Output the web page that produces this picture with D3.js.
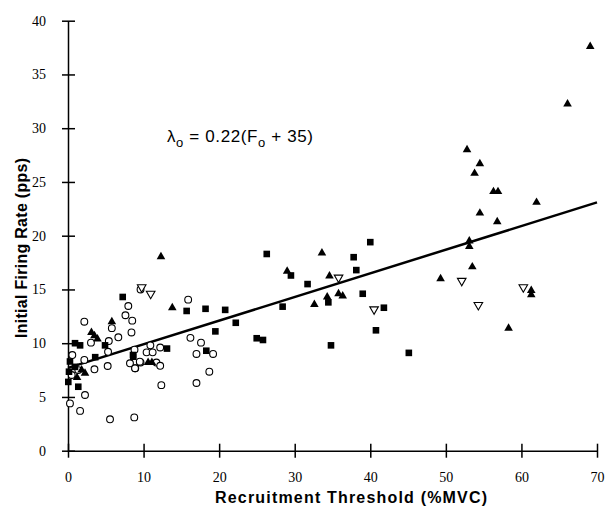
<!DOCTYPE html>
<html>
<head>
<meta charset="utf-8">
<script src="https://cdn.jsdelivr.net/npm/d3@7"></script>
<style>
  body { margin: 0; background: #fff; }
</style>
</head>
<body>
<svg id="chart"></svg>
<script>
// values: [recruitment threshold %MVC, initial firing rate pps]
var filledTriangles = [
  [69.1,37.6],[66.1,32.25],[52.8,28.0],[54.5,26.7],[53.8,25.8],[56.3,24.1],[56.9,24.1],
  [62.0,23.1],[54.5,22.1],[56.8,21.3],[53.1,19.5],[53.1,19.0],[53.5,17.1],[49.3,16.0],
  [61.3,14.9],[61.3,14.5],[58.3,11.4],[33.6,18.4],[29.0,16.7],[34.6,16.25],[35.8,14.6],
  [36.35,14.4],[34.3,14.3],[32.6,13.6],[12.3,18.05],[13.8,13.3],[10.6,8.2],[11.1,8.2],
  [5.8,12.0],[3.1,11.0],[3.5,10.7],[3.9,10.4],[1.8,7.5],[2.25,7.2],[1.2,6.8]
];
var filledSquares = [
  [26.3,18.3],[40.0,19.4],[37.8,18.0],[29.5,16.3],[38.15,16.8],[31.7,15.5],[39.0,14.6],
  [28.4,13.4],[41.8,13.3],[40.75,11.2],[24.97,10.46],[25.8,10.3],[34.8,9.8],[45.1,9.1],
  [34.45,13.8],[15.7,13.0],[18.2,13.2],[20.8,13.1],[22.2,11.9],[19.5,11.1],[18.3,9.3],
  [13.1,9.5],[8.6,8.9],[7.24,14.3],[4.9,9.8],[3.6,8.7],[0.93,10.0],[1.6,9.8],[0.26,8.3],
  [0.93,7.8],[0.13,7.35],[0.04,6.4],[1.36,5.95],[8.64,8.74]
];
var openCircles = [
  [9.6,15.0],[15.9,14.05],[16.2,10.5],[17.6,10.05],[17.0,9.0],[19.2,9.0],[18.7,7.35],
  [17.0,6.3],[12.35,6.1],[10.9,9.8],[10.4,9.15],[11.2,9.15],[12.2,9.6],[9.6,8.2],
  [11.7,8.2],[12.2,7.9],[8.9,7.67],[7.98,13.46],[7.6,12.6],[8.5,12.1],[8.4,11.0],
  [2.16,12.0],[5.8,11.4],[6.66,10.55],[3.04,10.05],[5.4,10.2],[5.3,9.2],[0.57,8.9],
  [2.16,8.44],[3.5,7.57],[5.25,7.88],[1.36,7.5],[0.49,7.04],[2.25,5.18],[0.26,4.4],
  [1.6,3.7],[5.56,2.92],[8.77,3.1],[8.2,8.13],[8.87,7.67],[9.5,8.28],[8.8,9.4]
];
var openInvTriangles = [
  [9.75,15.2],[10.94,14.6],[35.8,16.1],[40.5,13.15],[52.1,15.8],[60.25,15.2],[54.3,13.55]
];

// regression line lambda_o = 0.22(F_o + 35)
var fitX = [0, 70];
var fitY = [7.7, 23.1];

var xTicks = [0, 10, 20, 30, 40, 50, 60, 70];
var yTicks = [0, 5, 10, 15, 20, 25, 30, 35, 40];

var width = 607, height = 506;
var margin = {left: 68, right: 10, top: 20.7, bottom: 55.3};
var sans = "'Liberation Sans', Arial, sans-serif";
var serif = "'Liberation Serif', 'Times New Roman', serif";

var svg = d3.select("#chart")
    .attr("width", width)
    .attr("height", height);

var x = d3.scaleLinear()
    .domain([0, 70])
    .range([margin.left, width - margin.right]);

var y = d3.scaleLinear()
    .domain([0, 40])
    .range([height - margin.bottom, margin.top]);

// axes, ticks cross the axis line
var xAxis = svg.append("g")
    .attr("transform", "translate(0," + y(0) + ")")
    .call(d3.axisBottom(x).tickValues(xTicks).tickSizeOuter(0).tickPadding(15));
xAxis.selectAll(".tick line").attr("y1", -7).attr("y2", 7);

var yAxis = svg.append("g")
    .attr("transform", "translate(" + x(0) + ",0)")
    .call(d3.axisLeft(y).tickValues(yTicks).tickSizeOuter(0).tickPadding(16));
yAxis.selectAll(".tick line").attr("x1", -6).attr("x2", 7);

svg.selectAll(".domain, .tick line")
    .attr("stroke", "#000")
    .attr("stroke-width", 1.5);
svg.selectAll(".tick text")
    .attr("fill", "#000")
    .style("font-family", serif)
    .style("font-size", "14px");

// fit line
svg.append("path")
    .datum(d3.zip(fitX, fitY))
    .attr("fill", "none")
    .attr("stroke", "#000")
    .attr("stroke-width", 2.5)
    .attr("d", d3.line().x(d => x(d[0])).y(d => y(d[1])));

// markers
svg.append("g").selectAll("circle")
    .data(openCircles)
    .enter().append("circle")
    .attr("cx", d => x(d[0]))
    .attr("cy", d => y(d[1]))
    .attr("r", 3.4)
    .attr("fill", "#fff")
    .attr("stroke", "#000")
    .attr("stroke-width", 1.1);

svg.append("g").selectAll("rect")
    .data(filledSquares)
    .enter().append("rect")
    .attr("x", d => x(d[0]) - 3.3)
    .attr("y", d => y(d[1]) - 3.3)
    .attr("width", 6.6)
    .attr("height", 6.6)
    .attr("fill", "#000");

var tri = d3.symbol().type(d3.symbolTriangle).size(32);

svg.append("g").selectAll("path")
    .data(filledTriangles)
    .enter().append("path")
    .attr("d", tri)
    .attr("transform", d => "translate(" + x(d[0]) + "," + y(d[1]) + ")")
    .attr("fill", "#000");

svg.append("g").selectAll("path")
    .data(openInvTriangles)
    .enter().append("path")
    .attr("d", tri)
    .attr("transform", d => "translate(" + x(d[0]) + "," + y(d[1]) + ") rotate(180)")
    .attr("fill", "#fff")
    .attr("stroke", "#000")
    .attr("stroke-width", 1.1);

// equation
var eq = svg.append("text")
    .attr("x", 167)
    .attr("y", 141.5)
    .attr("textLength", 146)
    .attr("lengthAdjust", "spacing")
    .attr("font-family", sans)
    .attr("font-size", "17px");
eq.append("tspan").text("\u03bb");
eq.append("tspan").attr("dy", 5).attr("font-size", "13px").text("o");
eq.append("tspan").attr("dy", -5).text(" = 0.22(F");
eq.append("tspan").attr("dy", 5).attr("font-size", "13px").text("o");
eq.append("tspan").attr("dy", -5).text(" + 35)");

// axis titles
svg.append("text")
    .attr("x", 351)
    .attr("y", 502.5)
    .attr("text-anchor", "middle")
    .attr("textLength", 272)
    .attr("lengthAdjust", "spacing")
    .attr("font-family", sans)
    .attr("font-weight", "bold")
    .attr("font-size", "16px")
    .text("Recruitment Threshold (%MVC)");

svg.append("text")
    .attr("transform", "translate(27,248) rotate(-90)")
    .attr("text-anchor", "middle")
    .attr("textLength", 180)
    .attr("lengthAdjust", "spacing")
    .attr("font-family", sans)
    .attr("font-weight", "bold")
    .attr("font-size", "16px")
    .text("Initial Firing Rate (pps)");
</script>
</body>
</html>
